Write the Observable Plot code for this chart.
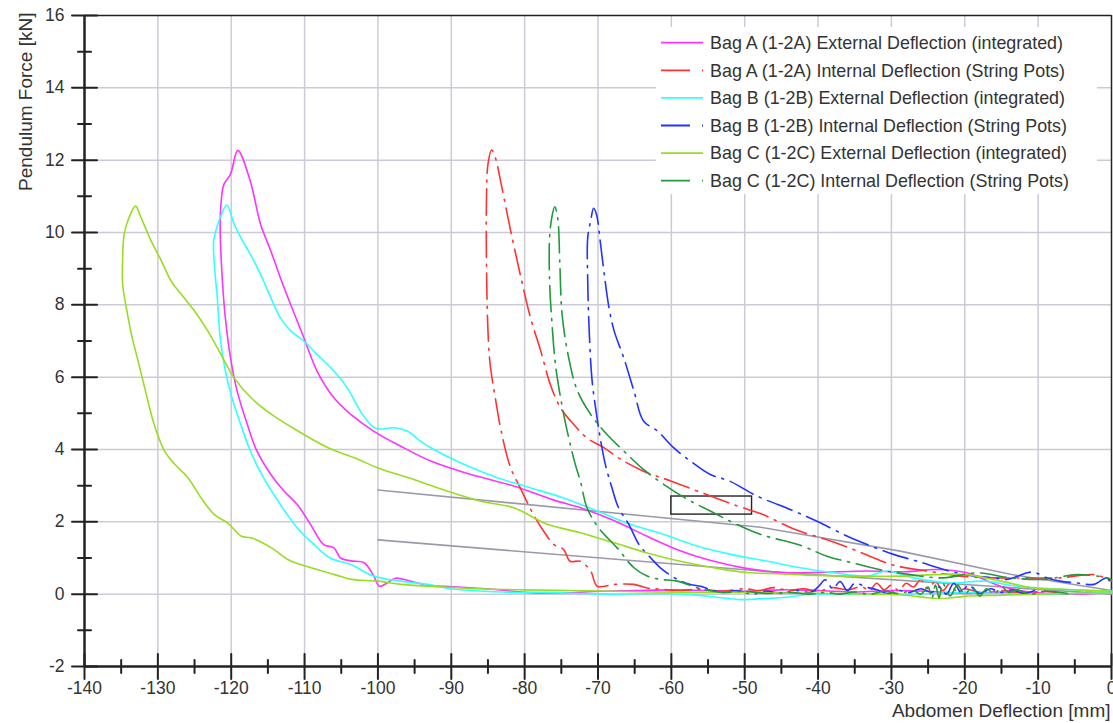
<!DOCTYPE html>
<html>
<head>
<meta charset="utf-8">
<script src="https://cdn.jsdelivr.net/npm/d3@7"></script>
<script src="https://cdn.jsdelivr.net/npm/@observablehq/plot@0.6"></script>
<style>
  body { margin: 0; background: #fff; }
  #wrap { position: relative; width: 1113px; height: 723px; font-family: "Liberation Sans", Arial, sans-serif; }
  #legend { position: absolute; left: 656px; top: 27px; }
</style>
</head>
<body>
<div id="wrap"></div>
<script>
// Axis ticks and grid positions
const xTicks = [-140, -130, -120, -110, -100, -90, -80, -70, -60, -50, -40, -30, -20, -10, 0];
const xMinorTicks = [-135, -125, -115, -105, -95, -85, -75, -65, -55, -45, -35, -25, -15, -5];
const yTicks = [-2, 0, 2, 4, 6, 8, 10, 12, 14, 16];
const yMinorTicks = [-1, 1, 3, 5, 7, 9, 11, 13, 15];
const xGridLines = [-130, -120, -110, -100, -90, -80, -70, -60, -50, -40, -30, -20, -10];
const yGridLines = [0, 2, 4, 6, 8, 10, 12, 14];

// Series: [deflection mm, force kN]
const bagAExternal = [
  [0,0.05],[-5,0.0],[-10,0.02],[-15,0.06],[-20,0.02],[-25,0.08],[-30,0.1],[-35,0.06],[-40,0.1],[-45,0.12],
  [-50,0.08],[-55,0.1],[-60,0.12],[-65,0.1],[-70,0.08],[-74,0.04],[-80,0.05],[-84,0.13],[-88,0.18],[-91,0.22],
  [-93.3,0.25],[-95.6,0.36],[-97.6,0.44],[-98.8,0.3],[-99.8,0.22],[-100.6,0.52],[-101.9,0.87],[-103.7,0.92],
  [-105.1,1.0],[-106,1.28],[-107.4,1.37],[-109.2,1.93],[-111,2.48],[-112.8,2.85],[-114.6,3.31],[-116.5,3.96],
  [-117.8,4.69],[-119.2,5.62],[-120.1,6.54],[-120.8,7.64],[-121.2,8.66],[-121.5,10.04],[-121.4,10.78],
  [-121.0,11.33],[-120.1,11.61],[-119.1,12.27],[-117.4,11.42],[-116.0,10.23],[-114.6,9.49],[-113.3,8.75],
  [-111.9,8.01],[-110.1,7.09],[-108.3,6.17],[-106.0,5.43],[-103.7,4.97],[-100.6,4.51],[-96.9,4.09],[-92.8,3.68],
  [-88,3.35],[-81.5,2.99],[-76,2.6],[-72.4,2.39],[-68,2.05],[-63.3,1.6],[-58.8,1.2],[-55,0.95],[-50,0.72],
  [-45,0.6],[-40,0.6],[-33.3,0.64],[-28,0.62],[-24,0.68],[-19.7,0.59],[-15.1,0.22],[-10.6,0.05],[-6,0.0],[0,0.05]
];
const bagAInternal = [
  [0,0.02],[-3,0.05],[-6,0.0],[-9,0.08],[-12,0.03],[-15,0.1],[-18,0.05],[-20,0.15],[-21,0.05],[-22,0.3],
  [-23,0.1],[-24,0.35],[-25,0.15],[-26,0.4],[-27,0.2],[-28,0.3],[-29,0.1],[-30,0.25],[-31,0.12],[-32,0.3],
  [-33,0.1],[-34,0.2],[-36,0.12],[-38,0.18],[-40,0.08],[-42,0.15],[-44,0.1],[-46,0.18],[-48,0.1],[-50,0.15],
  [-53,0.08],[-56,0.14],[-59,0.1],[-61.5,0.14],[-63.3,0.17],[-65.1,0.27],[-67.8,0.27],[-70.1,0.22],[-71,0.64],
  [-72.4,0.91],[-73.8,0.91],[-74.7,1.24],[-76,1.37],[-77.4,1.74],[-78.8,2.2],[-80.6,2.94],[-81.9,3.49],
  [-83.2,4.51],[-84.0,5.43],[-84.7,6.35],[-85.0,7.28],[-85.2,9.12],[-85.2,10.96],[-85.0,11.89],[-84.5,12.28],
  [-84.0,12.07],[-83.1,11.24],[-81.9,10.04],[-80.6,8.84],[-79.2,7.64],[-77.8,6.72],[-76.5,5.8],[-75.1,5.15],
  [-73.3,4.69],[-71.5,4.32],[-69.2,4.05],[-66.9,3.73],[-63.8,3.4],[-60.1,3.13],[-55.8,2.8],[-51,2.44],
  [-47.5,2.2],[-43.3,1.8],[-38,1.45],[-33.5,1.1],[-29.7,0.8],[-25.1,0.64],[-20.6,0.5],[-16,0.45],[-11.5,0.45],
  [-7,0.45],[-2.4,0.54],[0,0.36]
];
const bagBExternal = [
  [0,0.05],[-5,0.02],[-10,0.0],[-15,0.02],[-20,0.05],[-25,0.02],[-30,0.0],[-35,0.0],[-41,0.0],[-44,-0.08],
  [-47,-0.12],[-50.6,-0.15],[-54,-0.08],[-57,-0.02],[-62,0.02],[-67,0.0],[-72,0.02],[-77,0.05],[-82,0.05],
  [-87,0.1],[-90,0.15],[-93.3,0.27],[-96.9,0.36],[-100.6,0.5],[-103.7,0.82],[-106.5,1.0],[-108.7,1.37],
  [-111,1.83],[-113.3,2.48],[-115.6,3.22],[-117.4,3.96],[-118.7,4.69],[-119.9,5.43],[-120.8,6.17],[-121.5,7.09],
  [-121.9,8.2],[-122.3,9.12],[-122.4,9.76],[-122.1,10.04],[-121.5,10.41],[-120.6,10.76],[-119.6,10.23],
  [-118.7,9.86],[-117.4,9.4],[-116.0,8.84],[-114.6,8.2],[-113.3,7.64],[-111.9,7.28],[-110.1,7.0],[-108.3,6.63],
  [-106,6.17],[-104.2,5.71],[-102.4,5.06],[-101,4.69],[-100.1,4.57],[-97.8,4.6],[-96,4.51],[-94.2,4.23],
  [-92.8,4.05],[-88.3,3.59],[-83.7,3.22],[-79.2,2.94],[-74.7,2.66],[-70.1,2.3],[-65.6,1.93],[-61,1.65],
  [-56.5,1.33],[-51.9,1.1],[-46.9,0.91],[-42.4,0.73],[-37.9,0.59],[-33.3,0.5],[-30.6,0.64],[-27,0.45],
  [-21.9,0.31],[-17.4,0.36],[-12.9,0.22],[-6.1,0.13],[0,0.08]
];
const bagBInternal = [
  [-10.5,0.1],[-12,0.02],[-13.5,0.12],[-15,0.05],[-16.5,0.15],[-18,0.02],[-19.5,0.25],[-20.5,0.05],[-21.5,0.3],
  [-22.5,0.0],[-23.5,0.2],[-24.5,0.05],[-26,0.15],[-27.5,0.05],[-29,0.1],[-30.5,0.02],[-32,0.12],[-33.5,0.2],
  [-35,0.3],[-36,0.1],[-37,0.35],[-38,0.15],[-39,0.4],[-40,0.2],[-41,0.05],[-43,0.1],[-45,0.02],[-47,0.08],
  [-49,0.0],[-51,0.1],[-53,0.05],[-55,0.15],[-56,0.22],[-57.4,0.27],[-59.2,0.41],[-61.5,0.73],[-62.8,1.0],
  [-64.4,1.37],[-65.8,1.93],[-67.2,2.39],[-68.1,2.94],[-69.0,3.59],[-69.7,4.32],[-70.2,4.97],[-70.8,5.89],
  [-71.2,7.28],[-71.4,8.66],[-71.4,9.86],[-71.0,10.32],[-70.6,10.67],[-70.2,10.5],[-69.7,9.76],[-69.2,8.93],
  [-68.5,7.92],[-67.8,7.28],[-66.5,6.54],[-65.1,5.62],[-63.8,4.79],[-61.9,4.51],[-59.7,4.05],[-57.4,3.68],
  [-54.7,3.31],[-52.1,3.13],[-48.4,2.72],[-43.3,2.3],[-40,2.0],[-36,1.6],[-33.3,1.37],[-29.7,1.1],[-26.5,0.91],
  [-20.3,0.55],[-16,0.45],[-14.2,0.41],[-11.5,0.59],[-10.6,0.61],[-8.8,0.45],[-7,0.36],[-4.7,0.31],[-2.4,0.27],
  [-0.6,0.45],[0,0.17]
];
const bagCExternal = [
  [0,0.03],[-5,0.02],[-10,0.0],[-15,-0.03],[-20,-0.06],[-23,-0.12],[-25,-0.1],[-28,-0.03],[-32,0.0],[-38,0.02],
  [-44,0.03],[-50,0.05],[-56,0.05],[-62,0.06],[-68,0.08],[-74,0.1],[-80,0.12],[-86,0.15],[-91,0.2],[-96.8,0.27],
  [-100,0.36],[-103.6,0.41],[-105.9,0.54],[-109.1,0.73],[-112.3,0.96],[-114.5,1.28],[-117.3,1.56],[-118.6,1.6],
  [-120.5,1.97],[-122.3,2.2],[-124.1,2.66],[-125.9,3.22],[-127.7,3.59],[-129.1,3.96],[-130.5,4.69],[-131.8,5.71],
  [-132.7,6.45],[-133.6,7.18],[-134.3,7.92],[-134.8,8.57],[-134.8,9.3],[-134.6,9.95],[-134.1,10.32],[-133.05,10.73],
  [-132.3,10.41],[-130.9,9.76],[-129.5,9.21],[-128.2,8.66],[-126.8,8.29],[-125,7.83],[-123.2,7.28],[-121.4,6.63],
  [-119.6,5.98],[-117.3,5.43],[-114.5,4.97],[-110.9,4.51],[-106.8,4.05],[-103.2,3.77],[-100,3.49],[-95.1,3.17],
  [-90.6,2.85],[-86,2.57],[-81.5,2.39],[-76.9,1.93],[-72.4,1.7],[-67.8,1.42],[-63.3,1.14],[-58.8,0.91],
  [-54.2,0.73],[-49.7,0.6],[-45,0.56],[-40,0.52],[-35,0.5],[-28.8,0.5],[-24.2,0.54],[-19.7,0.54],[-15.1,0.36],
  [-10.6,0.17],[-6.1,0.13],[0,0.08]
];
const bagCInternal = [
  [-6,0.02],[-9,0.08],[-11,0.0],[-13,0.12],[-14,0.05],[-15,0.2],[-16,0.0],[-17,0.15],[-18,-0.05],[-19,0.2],
  [-20,0.0],[-21,0.25],[-22,-0.05],[-23,0.3],[-23.5,-0.1],[-24,0.25],[-24.5,-0.12],[-25,0.2],[-26,0.0],[-27,0.1],
  [-29,0.02],[-31,0.08],[-33,0.0],[-35,0.06],[-37,0.0],[-39,0.05],[-41,0.0],[-44,0.05],[-47,0.02],[-50,0.08],
  [-53,0.05],[-56,0.15],[-59.2,0.36],[-61.5,0.41],[-63.3,0.5],[-65.1,0.73],[-67.4,1.28],[-69.9,1.83],[-71.5,2.39],
  [-72.4,3.13],[-73.1,3.59],[-74.2,4.51],[-75.1,5.43],[-75.8,6.35],[-76.2,7.28],[-76.6,8.66],[-76.6,9.86],
  [-76.3,10.41],[-75.9,10.71],[-75.5,10.41],[-75.2,9.12],[-74.9,7.74],[-74.0,6.54],[-72.8,5.62],[-71.0,4.97],
  [-68.8,4.42],[-66.5,3.96],[-63.8,3.45],[-61.0,3.03],[-57.8,2.62],[-54.7,2.3],[-51.3,1.95],[-47.8,1.65],
  [-42.4,1.35],[-38.8,1.05],[-35,0.85],[-31,0.65],[-27.4,0.54],[-22.9,0.45],[-18.3,0.59],[-13.8,0.45],
  [-9.2,0.41],[-4.7,0.54],[-0.6,0.45],[0,0.4]
];

// Reference lines and highlighted window
const fitUpper = [[-100,2.88],[-47.8,1.85],[-28.8,1.19],[-13.8,0.55],[0,0.1]];
const fitLower = [[-100,1.5],[-47.8,0.64],[0,0.0]];
const highlightBox = [{x1: -60, x2: -49, y1: 2.2, y2: 2.7}];

const seriesNames = [
  "Bag A (1-2A) External Deflection (integrated)",
  "Bag A (1-2A) Internal Deflection (String Pots)",
  "Bag B (1-2B) External Deflection (integrated)",
  "Bag B (1-2B) Internal Deflection (String Pots)",
  "Bag C (1-2C) External Deflection (integrated)",
  "Bag C (1-2C) Internal Deflection (String Pots)"
];
const seriesData = [bagAExternal, bagAInternal, bagBExternal, bagBInternal, bagCExternal, bagCInternal];
const seriesColors = ["#ff33ff", "#ff3333", "#33ffff", "#2233ff", "#99dd22", "#22993a"];
const seriesDashed = [false, true, false, true, false, true];

const xLabel = "Abdomen Deflection [mm]";
const yLabel = "Pendulum Force [kN]";

const dashPattern = "26,7,2,7";
const ink = "#222";
const textInk = "#333";
const gridColor = "#cbcbd8";
const fontStack = "'Liberation Sans', Arial, sans-serif";

// Plain straight line used for the crossing tick marks
const tickLine = {draw(context, l) { context.moveTo(0, l / 2); context.lineTo(0, -l / 2); }};

const px = d => d[0];
const py = d => d[1];

const lineMarks = seriesData.map((data, i) => Plot.line(data, {
  x: px, y: py,
  stroke: seriesColors[i],
  strokeWidth: 1.6,
  strokeDasharray: seriesDashed[i] ? dashPattern : null,
  curve: "catmull-rom"
}));

const chart = Plot.plot({
  width: 1113,
  height: 723,
  marginLeft: 84,
  marginRight: 2,
  marginTop: 15,
  marginBottom: 57,
  style: {fontFamily: fontStack, fontSize: "17.5px", color: textInk, background: "#fff"},
  x: {domain: [-140, 0]},
  y: {domain: [-2, 16]},
  marks: [
    Plot.gridX(xGridLines, {stroke: gridColor, strokeOpacity: 1, strokeWidth: 1.5}),
    Plot.gridY(yGridLines, {stroke: gridColor, strokeOpacity: 1, strokeWidth: 1.5}),
    Plot.axisX(xTicks, {tickSize: 0, tickPadding: 15, tickFormat: d => String(d), label: null, fill: textInk}),
    Plot.axisY(yTicks, {tickSize: 0, tickPadding: 20, tickFormat: d => String(d), label: null, fill: textInk}),
    // frame
    Plot.ruleY([16], {stroke: ink, strokeWidth: 1.5}),
    Plot.ruleX([0], {stroke: ink, strokeWidth: 1.5}),
    Plot.ruleY([-2], {stroke: ink, strokeWidth: 2.5}),
    Plot.ruleX([-140], {stroke: ink, strokeWidth: 2.5}),
    // crossing tick marks
    Plot.vector(yTicks, {y: d => d, frameAnchor: "left", rotate: 90, length: 25, anchor: "start", shape: tickLine, stroke: ink, strokeWidth: 2}),
    Plot.vector(yMinorTicks, {y: d => d, frameAnchor: "left", rotate: 90, length: 13, anchor: "start", shape: tickLine, stroke: ink, strokeWidth: 2}),
    Plot.vector(xTicks, {x: d => d, frameAnchor: "bottom", rotate: 0, length: 25, anchor: "start", shape: tickLine, stroke: ink, strokeWidth: 2}),
    Plot.vector(xMinorTicks, {x: d => d, frameAnchor: "bottom", rotate: 0, length: 13, anchor: "start", shape: tickLine, stroke: ink, strokeWidth: 2}),
    // reference lines and window
    Plot.line(fitUpper, {x: px, y: py, stroke: "#9a9aaa", strokeWidth: 1.6}),
    Plot.line(fitLower, {x: px, y: py, stroke: "#9a9aaa", strokeWidth: 1.6}),
    Plot.rect(highlightBox, {x1: "x1", x2: "x2", y1: "y1", y2: "y2", fill: "none", stroke: ink, strokeWidth: 1.4}),
    ...lineMarks,
    // axis titles
    Plot.text([xLabel], {text: d => d, frameAnchor: "bottom-right", textAnchor: "end", dx: -1, dy: 50, fontSize: 19, fill: textInk}),
    Plot.text([yLabel], {text: d => d, frameAnchor: "top-left", rotate: -90, textAnchor: "end", dx: -66, dy: -3, fontSize: 19, fill: textInk})
  ]
});

const wrap = document.getElementById("wrap");
wrap.appendChild(chart);

// Legend box in the upper right corner
const rowStep = 27.6;
const legend = d3.select(wrap).append("svg")
  .attr("id", "legend")
  .attr("width", 441)
  .attr("height", 167);
legend.append("rect").attr("width", 441).attr("height", 167).attr("fill", "#fff");
const rows = legend.selectAll("g").data(seriesNames).join("g")
  .attr("transform", (d, i) => `translate(0,${15.7 + i * rowStep})`);
rows.append("line")
  .attr("x1", 5).attr("x2", 47).attr("y1", 0).attr("y2", 0)
  .attr("stroke", (d, i) => seriesColors[i])
  .attr("stroke-width", 1.8)
  .attr("stroke-dasharray", (d, i) => seriesDashed[i] ? "29,12,1.5,30" : null);
rows.append("text")
  .attr("x", 54).attr("y", 0)
  .attr("dy", "0.35em")
  .attr("fill", textInk)
  .style("font-family", fontStack)
  .style("font-size", "17.9px")
  .text(d => d);
</script>
</body>
</html>
